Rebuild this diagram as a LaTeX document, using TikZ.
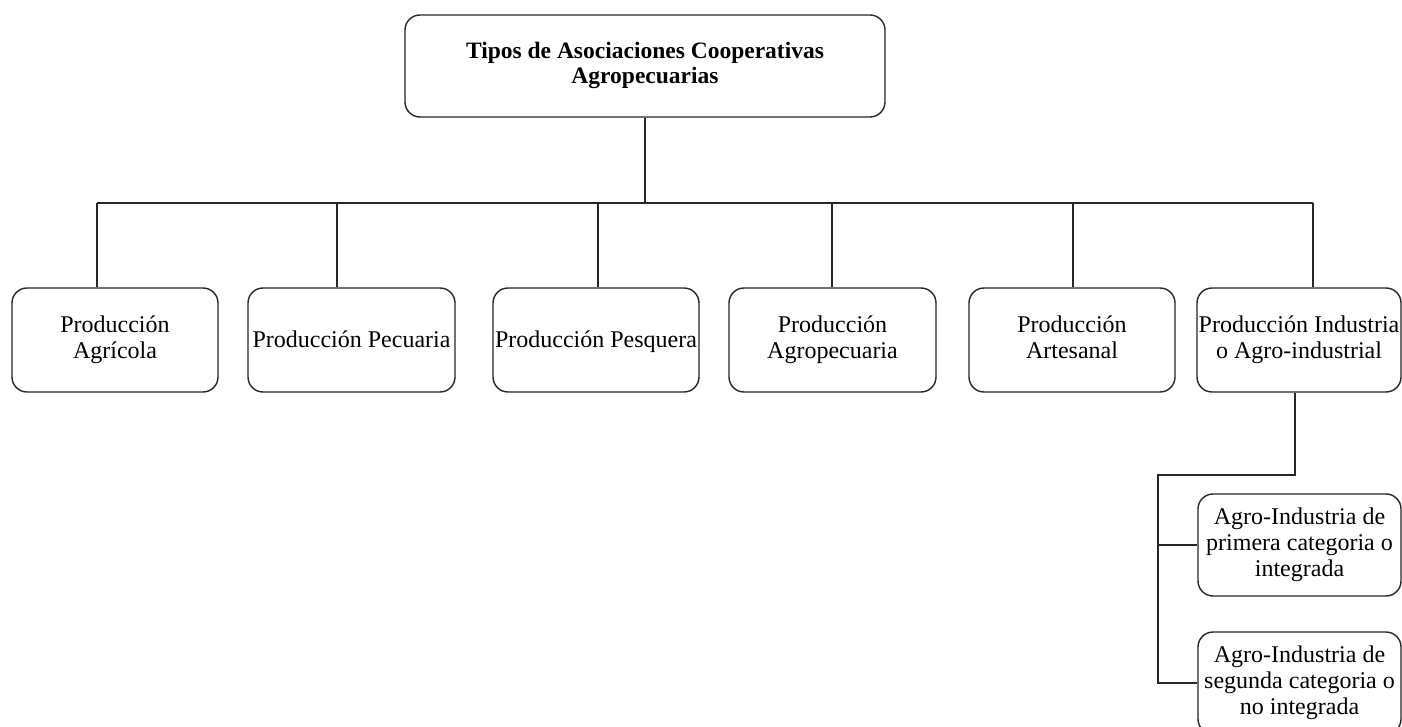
\documentclass[tikz,border=0pt]{standalone}
\usepackage{fontspec}
\setmainfont{Liberation Serif}
\begin{document}
\begin{tikzpicture}[x=1pt,y=-1pt,
  box/.style={draw=black!85, line width=1.4pt, rounded corners=15pt,
    inner sep=0pt, align=center, fill=white,
    font=\fontsize{24}{26}\selectfont,
    execute at begin node={\rule{0pt}{20pt}},
    execute at end node={\rule[-6pt]{0pt}{6pt}}},
  topbox/.style={box, font=\fontsize{23.5}{25}\selectfont\bfseries,
    execute at begin node={\rule{0pt}{19pt}},
    execute at end node={\rule[-6pt]{0pt}{6pt}}},
  link/.style={draw=black!85, line width=1.4pt}]
\clip (0,0) rectangle (1402,727);
\fill[white] (0,0) rectangle (1402,727);

% root
\node[topbox, minimum width=480pt, minimum height=102pt] (root) at (645,66)
  {Tipos de Asociaciones Cooperativas\\Agropecuarias};

% first level
\node[box, minimum width=206pt, minimum height=104pt] (c1) at (115,340)
  {Producción\\Agrícola};
\node[box, minimum width=207pt, minimum height=104pt] (c2) at (351.5,340)
  {Producción Pecuaria};
\node[box, minimum width=206pt, minimum height=104pt] (c3) at (596,340)
  {Producción Pesquera};
\node[box, minimum width=207pt, minimum height=104pt] (c4) at (832.5,340)
  {Producción\\Agropecuaria};
\node[box, minimum width=206pt, minimum height=104pt] (c5) at (1072,340)
  {Producción\\Artesanal};
\node[box, minimum width=204pt, minimum height=104pt] (c6) at (1299,340)
  {Producción Industria\\o Agro-industrial};

% second level
\node[box, minimum width=203pt, minimum height=102pt] (s1) at (1299.5,545)
  {Agro-Industria de\\primera categoria o\\integrada};
\node[box, minimum width=203pt, minimum height=102pt] (s2) at (1299.5,683)
  {Agro-Industria de\\segunda categoria o\\no integrada};

% bus joints
\coordinate (k1) at (97,203);
\coordinate (k2) at (337,203);
\coordinate (k3) at (598,203);
\coordinate (k4) at (832,203);
\coordinate (k5) at (1073,203);
\coordinate (k6) at (1313,203);
\coordinate (j1) at (1295,475);
\coordinate (j2) at (1158,475);

\draw[link] (root.south) -- (root.south |- k1);
\draw[link] (k1) -- (k6);
\foreach \i in {1,...,6} \draw[link] (k\i) -- (k\i |- c\i.north);

\draw[link] (j1 |- c6.south) -- (j1) -- (j2) -- (j2 |- s2.west) -- (s2.west);
\draw[link] (j2 |- s1.west) -- (s1.west);
\end{tikzpicture}
\end{document}
